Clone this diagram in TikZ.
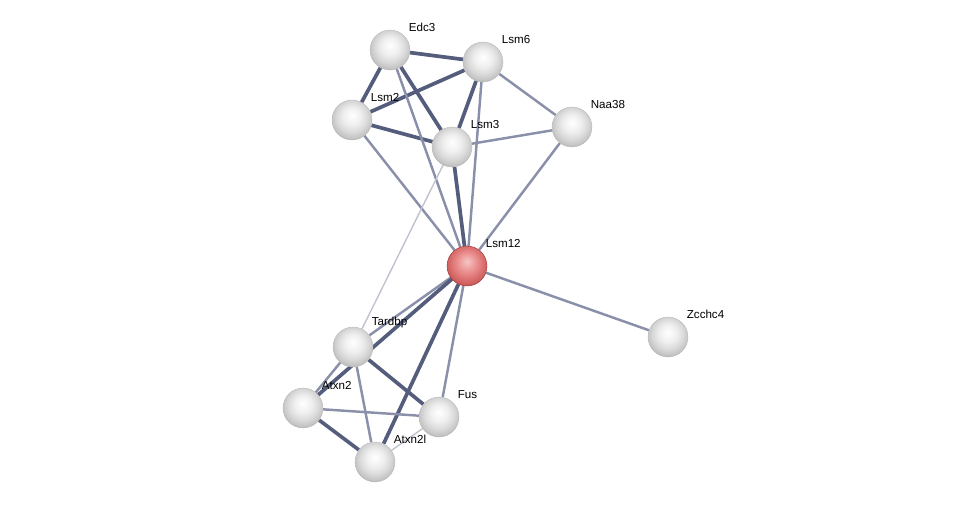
\documentclass[tikz,border=0pt]{standalone}
\usepackage{fontspec}
\setmainfont{Liberation Sans}
\usepackage{tikz}
\usetikzlibrary{backgrounds}
\definecolor{linkdark}{HTML}{555D7D}
\definecolor{linkmid}{HTML}{8A90A9}
\definecolor{linklight}{HTML}{BFC3D0}
\definecolor{greyA}{HTML}{FFFFFF}
\definecolor{greyB}{HTML}{EFEFEF}
\definecolor{greyC}{HTML}{DADADA}
\definecolor{greyD}{HTML}{C2C2C2}
\definecolor{greyE}{HTML}{8A8A8A}
\definecolor{redA}{HTML}{F6C6C6}
\definecolor{redB}{HTML}{EC9494}
\definecolor{redC}{HTML}{DE7474}
\definecolor{redD}{HTML}{CC5C5C}
\definecolor{redE}{HTML}{962C2C}
\pgfdeclareradialshading{greyball}{\pgfpoint{0bp}{6bp}}{%
  color(0bp)=(greyA); color(11bp)=(greyB); color(19bp)=(greyC);
  color(26bp)=(greyD); color(31bp)=(greyE); color(50bp)=(greyE)}
\pgfdeclareradialshading{redball}{\pgfpoint{0bp}{6bp}}{%
  color(0bp)=(redA); color(11bp)=(redB); color(19bp)=(redC);
  color(26bp)=(redD); color(31bp)=(redE); color(50bp)=(redE)}
\tikzset{
  protnode/.style={
    circle, minimum size=0.8cm, inner sep=0pt,
    shading=greyball, draw=gray!55, very thin,
    label={[font=\fontsize{6.6}{7.5}\selectfont, inner sep=0pt, label distance=0.12cm]45:#1}
  },
  hubnode/.style={protnode=#1, shading=redball, draw=redE},
  edgestrong/.style={line width=2.1pt, color=linkdark},
  edgemid/.style={line width=1.4pt, color=linkmid},
  edgeweak/.style={line width=0.8pt, color=linklight},
}

\begin{document}
\begin{tikzpicture}[x=0.02cm, y=-0.02cm]
  \useasboundingbox (0,0) rectangle (976,507);

  \node[protnode=Edc3] (edc3) at (390,50) {};
  \node[protnode=Lsm6] (lsm6) at (483,62) {};
  \node[protnode=Lsm2] (lsm2) at (352,120) {};
  \node[protnode=Lsm3] (lsm3) at (452,147) {};
  \node[protnode=Naa38] (naa38) at (572,127) {};
  \node[hubnode=Lsm12] (lsm12) at (467,266) {};
  \node[protnode=Zcchc4] (zcchc4) at (668,337) {};
  \node[protnode=Tardbp] (tardbp) at (353,347) {};
  \node[protnode=Atxn2] (atxn2) at (303,408) {};
  \node[protnode=Fus] (fus) at (439,417) {};
  \node[protnode=Atxn2l] (atxn2l) at (375,462) {};

  \begin{scope}[on background layer]
    % upper cluster
    \draw[edgestrong] (edc3) -- (lsm6);
    \draw[edgestrong] (edc3) -- (lsm2);
    \draw[edgestrong] (edc3) -- (lsm3);
    \draw[edgestrong] (lsm6) -- (lsm2);
    \draw[edgestrong] (lsm6) -- (lsm3);
    \draw[edgestrong] (lsm2) -- (lsm3);
    \draw[edgemid] (lsm6) -- (naa38);
    \draw[edgemid] (lsm3) -- (naa38);
    \draw[edgemid] (edc3) -- (lsm12);
    \draw[edgemid] (lsm6) -- (lsm12);
    \draw[edgemid] (lsm2) -- (lsm12);
    \draw[edgestrong] (lsm3) -- (lsm12);
    \draw[edgemid] (naa38) -- (lsm12);
    \draw[edgeweak] (lsm3) -- (tardbp);
    \draw[edgemid] (lsm12) -- (zcchc4);
    % lower cluster
    \draw[edgemid] (lsm12) -- (tardbp);
    \draw[edgestrong] (lsm12) -- (atxn2);
    \draw[edgestrong] (lsm12) -- (atxn2l);
    \draw[edgemid] (lsm12) -- (fus);
    \draw[edgemid] (tardbp) -- (atxn2);
    \draw[edgestrong] (tardbp) -- (fus);
    \draw[edgemid] (tardbp) -- (atxn2l);
    \draw[edgemid] (atxn2) -- (fus);
    \draw[edgestrong] (atxn2) -- (atxn2l);
    \draw[edgeweak] (fus) -- (atxn2l);
  \end{scope}
\end{tikzpicture}
\end{document}
